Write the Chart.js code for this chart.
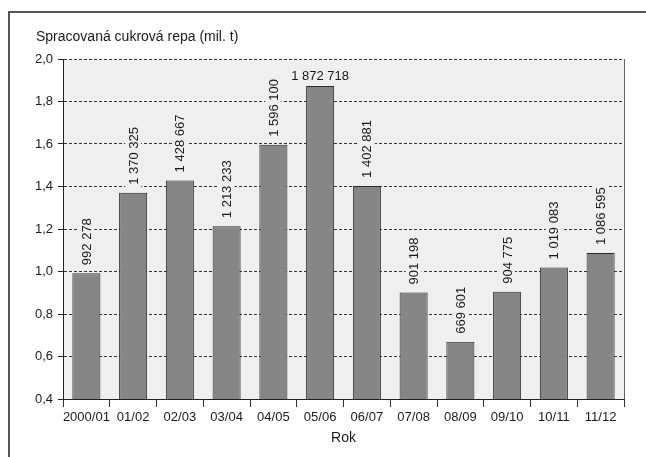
<!DOCTYPE html>
<html>
<head>
<meta charset="utf-8">
<script src="https://cdn.jsdelivr.net/npm/chart.js@4/dist/chart.umd.min.js"></script>
<style>
  body { margin: 0; background: #fff; overflow: hidden; }
  #wrap { position: relative; width: 646px; height: 457px; }
  #frame {
    position: absolute; left: 8px; top: 11px; width: 700px; height: 500px;
    border-left: 2px solid #555; border-top: 2px solid #555; pointer-events: none;
  }
</style>
</head>
<body>
<div id="wrap">
  <canvas id="sugarChart" width="646" height="457"></canvas>
  <div id="frame"></div>
</div>
<script>
const seasons = ["2000/01", "01/02", "02/03", "03/04", "04/05", "05/06", "06/07", "07/08", "08/09", "09/10", "10/11", "11/12"];
const tonnes = [992278, 1370325, 1428667, 1213233, 1596100, 1872718, 1402881, 901198, 669601, 904775, 1019083, 1086595];
const yTicks = [0.4, 0.6, 0.8, 1.0, 1.2, 1.4, 1.6, 1.8, 2.0];
const chartTitle = "Spracovaná cukrová repa (mil. t)";

const fontFamily = '"Liberation Sans Narrow", "Arial Narrow", "Liberation Sans", Arial, sans-serif';
const plotBg = "#eeefee";
const ink = "#1a1a1a";

function withSpaces(n) {
  return String(n).replace(/\B(?=(\d{3})+(?!\d))/g, " ");
}

// light grey plot area, solid right edge, title in the top left corner
const plotBackground = {
  id: "plotBackground",
  beforeDraw(chart) {
    const { ctx, chartArea } = chart;
    ctx.save();
    ctx.fillStyle = plotBg;
    ctx.fillRect(chartArea.left, chartArea.top, chartArea.right - chartArea.left, chartArea.bottom - chartArea.top);
    ctx.restore();
  },
  afterDraw(chart) {
    const { ctx, chartArea } = chart;
    ctx.save();
    ctx.strokeStyle = "#666";
    ctx.lineWidth = 1;
    ctx.beginPath();
    ctx.moveTo(chartArea.right + 0.5, chartArea.top);
    ctx.lineTo(chartArea.right + 0.5, chartArea.bottom);
    ctx.stroke();

    ctx.fillStyle = ink;
    ctx.font = "14px " + fontFamily;
    ctx.textAlign = "left";
    ctx.textBaseline = "middle";
    ctx.fillText(chartTitle, 36, 37);
    ctx.restore();
  }
};

// value above each bar, rotated unless it would run out of the plot
const valueLabels = {
  id: "valueLabels",
  afterDatasetsDraw(chart) {
    const { ctx, chartArea } = chart;
    const meta = chart.getDatasetMeta(0);
    ctx.save();
    ctx.font = "13px " + fontFamily;
    meta.data.forEach((bar, i) => {
      const text = withSpaces(tonnes[i]);
      const w = ctx.measureText(text).width;
      const gap = 8;
      if (bar.y - gap - w < chartArea.top + 4) {
        const y = bar.y - 6;
        ctx.fillStyle = plotBg;
        ctx.fillRect(bar.x - w / 2 - 3, y - 12, w + 6, 15);
        ctx.fillStyle = ink;
        ctx.textAlign = "center";
        ctx.textBaseline = "alphabetic";
        ctx.fillText(text, bar.x, y);
      } else {
        ctx.save();
        ctx.translate(bar.x, bar.y - gap);
        ctx.rotate(-Math.PI / 2);
        ctx.fillStyle = plotBg;
        ctx.fillRect(-3, -8, w + 6, 16);
        ctx.fillStyle = ink;
        ctx.textAlign = "left";
        ctx.textBaseline = "middle";
        ctx.fillText(text, 0, 1);
        ctx.restore();
      }
    });
    ctx.restore();
  }
};

new Chart(document.getElementById("sugarChart"), {
  type: "bar",
  data: {
    labels: seasons,
    datasets: [{
      data: tonnes.map(t => t / 1e6),
      backgroundColor: "#868686",
      borderColor: "#2b2b2b",
      borderWidth: 1,
      borderSkipped: "bottom",
      categoryPercentage: 1,
      barPercentage: 0.6
    }]
  },
  options: {
    responsive: false,
    animation: false,
    layout: { padding: { left: 10, right: 22, top: 59, bottom: 0 } },
    plugins: {
      legend: { display: false },
      tooltip: { enabled: false },
      title: { display: false }
    },
    scales: {
      x: {
        grid: {
          display: true,
          offset: true,
          drawOnChartArea: false,
          drawTicks: true,
          tickLength: 8,
          color: "#333"
        },
        border: { display: true, color: "#222", width: 1 },
        ticks: {
          color: ink,
          padding: 3,
          maxRotation: 0,
          autoSkip: false,
          font: { family: fontFamily, size: 13 }
        },
        title: {
          display: true,
          text: "Rok",
          color: ink,
          font: { family: fontFamily, size: 14 },
          padding: { top: 0, bottom: 10 }
        },
        afterFit(scale) { scale.height = 58; }
      },
      y: {
        min: yTicks[0],
        max: yTicks[yTicks.length - 1],
        afterBuildTicks(scale) { scale.ticks = yTicks.map(v => ({ value: v })); },
        grid: {
          color: "#333",
          lineWidth: 1,
          drawTicks: true,
          tickLength: 5,
          tickColor: "#222",
          tickBorderDash: []
        },
        border: { display: true, color: "#222", width: 1, dash: [3, 2] },
        ticks: {
          color: ink,
          padding: 5,
          font: { family: fontFamily, size: 13 },
          callback: v => v.toFixed(1).replace(".", ",")
        },
        afterFit(scale) { scale.width = 53; }
      }
    }
  },
  plugins: [plotBackground, valueLabels]
});
</script>
</body>
</html>
